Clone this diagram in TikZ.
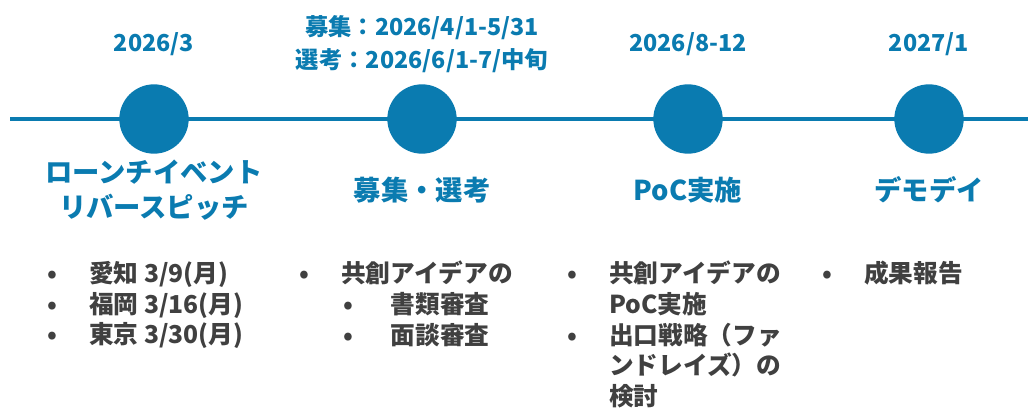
\documentclass[tikz,border=0pt]{standalone}
\usepackage{fontspec}
\setmainfont{Noto Sans CJK JP}
\usepackage{tikz}
\usetikzlibrary{positioning, calc}

\definecolor{tlblue}{HTML}{0A7BB0}
\definecolor{tlgray}{HTML}{404040}

% bullet: dot centred on the node's west edge, text after a fixed gap
\newcommand{\bitem}{\makebox[27.75pt][l]{\makebox[0pt]{•}}}
\newcommand{\bsub}{\hspace*{33pt}\makebox[32pt][l]{\makebox[0pt]{•}}}
\newcommand{\bcont}{\hspace*{27.75pt}}

\begin{document}
\begin{tikzpicture}[
        x=0.75pt, y=-0.75pt,
        milestone/.style={circle, fill=tlblue, minimum size=52pt, inner sep=0pt},
        datelab/.style={font=\fontsize{17.5}{25}\selectfont\bfseries, text=tlblue,
                align=center, inner sep=0pt},
        phaselab/.style={font=\fontsize{20.5}{26.5}\selectfont\bfseries, text=tlblue,
                align=center, inner sep=0pt},
        itemlist/.style={font=\fontsize{18.5}{23}\selectfont\bfseries, text=tlgray,
                align=left, inner sep=0pt, anchor=north west},
        axisline/.style={draw=tlblue, line width=3pt}, ]

        \useasboundingbox (0,0) rectangle (1028,410);

        % === TIMELINE ===
        \coordinate (tstart) at (10,119);
        \coordinate (tend) at (1028,119);
        \draw[axisline] (tstart) -- (tend);

        \node[milestone] (m1) at (154,119) {};
        \node[milestone] (m2) at (422,119) {};
        \node[milestone] (m3) at (688,119) {};
        \node[milestone] (m4) at (929,119) {};

        % === ROWS ===
        \coordinate (daterow) at (0,44);
        \coordinate (phaserow) at (0,190);

        % dates (above)
        \node[datelab] (d1) at (m1 |- daterow) {2026/3};
        \node[datelab] (d2) at (m2 |- daterow) {募集：2026/4/1-5/31\\選考：2026/6/1-7/中旬};
        \node[datelab] (d3) at (m3 |- daterow) {2026/8-12};
        \node[datelab] (d4) at (m4 |- daterow) {2027/1};

        % phases (below)
        \node[phaselab] (p1) at (m1 |- phaserow) {ローンチイベント\\リバースピッチ};
        \node[phaselab] (p2) at (m2 |- phaserow) {募集・選考};
        \node[phaselab] (p3) at (m3 |- phaserow) {PoC実施};
        \node[phaselab] (p4) at (m4 |- phaserow) {デモデイ};

        % === DETAILS ===
        \node[itemlist] (l1) at (52,261) {\bitem 愛知 3/9(月)\\\bitem 福岡 3/16(月)\\\bitem 東京 3/30(月)};
        \node[itemlist] (l2) at (304,261) {\bitem 共創アイデアの\\\bsub 書類審査\\\bsub 面談審査};
        \node[itemlist] (l3) at (572,261) {\bitem 共創アイデアの\\\bcont PoC実施\\\bitem 出口戦略（ファ\\\bcont ンドレイズ）の\\\bcont 検討};
        \node[itemlist] (l4) at (827,261) {\bitem 成果報告};
\end{tikzpicture}
\end{document}
